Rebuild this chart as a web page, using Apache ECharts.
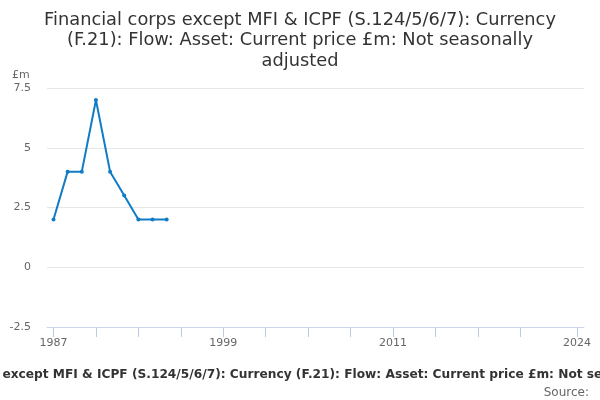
<!DOCTYPE html>
<html>
<head>
<meta charset="utf-8">
<script src="https://cdn.jsdelivr.net/npm/echarts@6/dist/echarts.min.js"></script>
<style>
  html, body { margin: 0; padding: 0; background: #fff; }
  #main { width: 600px; height: 400px; }
</style>
</head>
<body>
<div id="main"></div>
<script>
// data
var years = [1987, 1988, 1989, 1990, 1991, 1992, 1993, 1994, 1995];
var values = [2, 4, 4, 7, 4, 3, 2, 2, 2];
var yearLabels = [1987, 1999, 2011, 2024];
var yearTicks = [1987, 1990, 1993, 1996, 1999, 2002, 2005, 2008, 2011, 2014, 2017, 2020, 2024];
var titleText = 'Financial corps except MFI & ICPF (S.124/5/6/7): Currency\n(F.21): Flow: Asset: Current price £m: Not seasonally\nadjusted';
var footText = 'Financial corps except MFI & ICPF (S.124/5/6/7): Currency (F.21): Flow: Asset: Current price £m: Not seasonally adjusted';

var points = years.map(function (y, i) { return [y, values[i]]; });

var myChart = echarts.init(document.getElementById('main'));
var option = {
    animation: false,
    textStyle: { fontFamily: 'DejaVu Sans' },
    title: [
        {
            text: titleText,
            left: 300,
            top: 10,
            padding: 0,
            textAlign: 'center',
            textStyle: { fontSize: 17.8, fontWeight: 'normal', color: '#333', lineHeight: 20.5, fontFamily: 'DejaVu Sans' }
        },
        {
            text: footText,
            left: 309,
            top: 369,
            padding: 0,
            textAlign: 'center',
            textStyle: { fontSize: 12.2, fontWeight: 'bold', color: '#333', fontFamily: 'DejaVu Sans' }
        },
        {
            text: 'Source:',
            right: 11,
            top: 387,
            padding: 0,
            textStyle: { fontSize: 12, fontWeight: 'normal', color: '#666', fontFamily: 'DejaVu Sans' }
        },
        {
            text: '£m',
            left: 12,
            top: 70,
            padding: 0,
            textStyle: { fontSize: 11, fontWeight: 'normal', color: '#666', fontFamily: 'DejaVu Sans' }
        }
    ],
    grid: { left: 47, right: 16, top: 88, bottom: 73, containLabel: false },
    xAxis: {
        type: 'value',
        min: 1986.54,
        max: 2024.5,
        splitLine: { show: false },
        axisLine: { show: true, onZero: false, lineStyle: { color: '#ccd6eb' } },
        axisTick: { show: true, length: 10, customValues: yearTicks, lineStyle: { color: '#bccae3' } },
        axisLabel: { customValues: yearLabels, color: '#666', fontSize: 11, margin: 11, formatter: function (v) { return String(v); } }
    },
    yAxis: {
        type: 'value',
        min: -2.5,
        max: 7.5,
        interval: 2.5,
        axisLine: { show: false },
        axisTick: { show: false },
        splitLine: { lineStyle: { color: '#e6e6e6' } },
        axisLabel: { color: '#666', fontSize: 11, margin: 16 }
    },
    series: [
        {
            type: 'line',
            data: points,
            symbol: 'circle',
            symbolSize: 4,
            itemStyle: { color: '#0f7cc4' },
            lineStyle: { color: '#0f7cc4', width: 2 }
        }
    ]
};
myChart.setOption(option);
</script>
</body>
</html>
